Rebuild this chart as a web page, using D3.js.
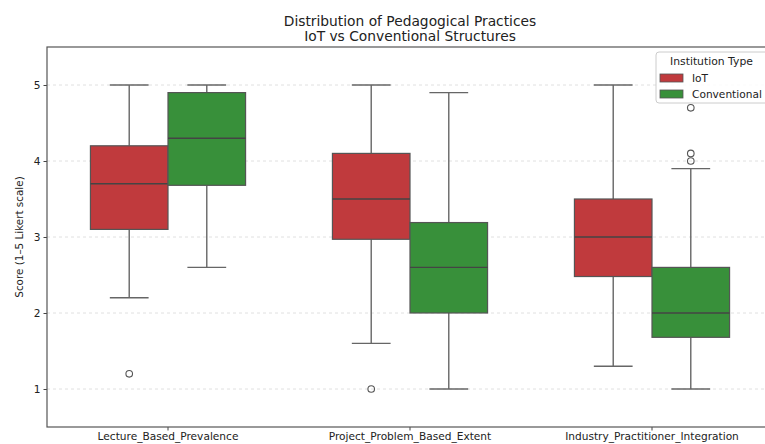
<!DOCTYPE html>
<html>
<head>
<meta charset="utf-8">
<script src="https://cdn.jsdelivr.net/npm/d3@7"></script>
<style>
  body { margin: 0; background: #fff; }
  svg { font-family: "DejaVu Sans", sans-serif; display: block; }
</style>
</head>
<body>
<div id="chart"></div>
<script>
const categories = ["Lecture_Based_Prevalence", "Project_Problem_Based_Extent", "Industry_Practitioner_Integration"];
const groups = ["IoT", "Conventional"];
const yTicks = [1, 2, 3, 4, 5];

// [whiskerLow, q1, median, q3, whiskerHigh] per category
const iotStats = [
    [2.2, 3.1, 3.7, 4.2, 5.0],
    [1.6, 2.97, 3.5, 4.1, 5.0],
    [1.3, 2.48, 3.0, 3.5, 5.0]
];
const convStats = [
    [2.6, 3.68, 4.3, 4.9, 5.0],
    [1.0, 2.0, 2.6, 3.19, 4.9],
    [1.0, 1.68, 2.0, 2.6, 3.9]
];
const iotOutliers = [[1.2], [1.0], []];
const convOutliers = [[], [], [4.0, 4.1, 4.7]];

const width = 765;
const height = 444;
const margin = { top: 47, right: -8, bottom: 17, left: 47 };

const svg = d3.select("#chart")
    .append("svg")
    .attr("width", width)
    .attr("height", height);

const x = d3.scaleBand()
    .domain(categories)
    .range([margin.left, width - margin.right]);

const y = d3.scaleLinear()
    .domain([0.5, 5.5])
    .range([height - margin.bottom, margin.top]);

const sub = d3.scaleBand()
    .domain(groups)
    .range([0, x.bandwidth()])
    .paddingInner(0)
    .paddingOuter(0.56);

const colorScale = d3.scaleOrdinal()
    .domain(groups)
    .range(["#c03a3d", "#38903a"]);

// grid
svg.append("g")
    .selectAll("line")
    .data(yTicks)
    .enter()
    .append("line")
    .attr("x1", margin.left)
    .attr("x2", width)
    .attr("y1", d => y(d))
    .attr("y2", d => y(d))
    .attr("stroke", "#d8d8d8")
    .attr("stroke-width", 0.8)
    .attr("stroke-dasharray", "3,3");

const boxData = [];
categories.forEach((c, i) => {
    boxData.push({ cat: c, group: "IoT", s: iotStats[i], out: iotOutliers[i] });
    boxData.push({ cat: c, group: "Conventional", s: convStats[i], out: convOutliers[i] });
});

const boxes = svg.append("g")
    .selectAll("g")
    .data(boxData)
    .enter()
    .append("g")
    .attr("transform", d => `translate(${x(d.cat) + sub(d.group)},0)`);

const bw = sub.bandwidth();
const capW = bw / 2;

// whiskers
boxes.append("line")
    .attr("x1", bw / 2).attr("x2", bw / 2)
    .attr("y1", d => y(d.s[0])).attr("y2", d => y(d.s[1]))
    .attr("stroke", "#666").attr("stroke-width", 1.4);
boxes.append("line")
    .attr("x1", bw / 2).attr("x2", bw / 2)
    .attr("y1", d => y(d.s[3])).attr("y2", d => y(d.s[4]))
    .attr("stroke", "#666").attr("stroke-width", 1.4);
boxes.append("line")
    .attr("x1", bw / 2 - capW / 2).attr("x2", bw / 2 + capW / 2)
    .attr("y1", d => y(d.s[0])).attr("y2", d => y(d.s[0]))
    .attr("stroke", "#666").attr("stroke-width", 1.4);
boxes.append("line")
    .attr("x1", bw / 2 - capW / 2).attr("x2", bw / 2 + capW / 2)
    .attr("y1", d => y(d.s[4])).attr("y2", d => y(d.s[4]))
    .attr("stroke", "#666").attr("stroke-width", 1.4);

boxes.append("rect")
    .attr("x", 0)
    .attr("width", bw)
    .attr("y", d => y(d.s[3]))
    .attr("height", d => y(d.s[1]) - y(d.s[3]))
    .attr("fill", d => colorScale(d.group))
    .attr("stroke", "#555")
    .attr("stroke-width", 1.2);

boxes.append("line")
    .attr("x1", 0).attr("x2", bw)
    .attr("y1", d => y(d.s[2])).attr("y2", d => y(d.s[2]))
    .attr("stroke", "#444").attr("stroke-width", 1.4);

boxes.selectAll("circle")
    .data(d => d.out)
    .enter()
    .append("circle")
    .attr("cx", bw / 2)
    .attr("cy", d => y(d))
    .attr("r", 3.3)
    .attr("fill", "none")
    .attr("stroke", "#555")
    .attr("stroke-width", 1.1);

// axes
const yAxis = svg.append("g")
    .attr("transform", `translate(${margin.left},0)`)
    .call(d3.axisLeft(y).tickValues(yTicks).tickSize(3.5).tickFormat(d3.format("d")));
yAxis.select(".domain").remove();
yAxis.selectAll("line").attr("stroke", "#444");
yAxis.selectAll("text").attr("font-size", "10.6px").attr("fill", "#222").attr("font-family", "DejaVu Sans");

const xAxis = svg.append("g")
    .attr("transform", `translate(0,${height - margin.bottom})`)
    .call(d3.axisBottom(x).tickSize(3.5).tickPadding(1.5));
xAxis.select(".domain").remove();
xAxis.selectAll("line").attr("stroke", "#444");
xAxis.selectAll("text").attr("font-size", "10.6px").attr("fill", "#222").attr("font-family", "DejaVu Sans");

// frame
svg.append("rect")
    .attr("x", margin.left)
    .attr("y", margin.top)
    .attr("width", width - margin.right - margin.left)
    .attr("height", height - margin.bottom - margin.top)
    .attr("fill", "none")
    .attr("stroke", "#555")
    .attr("stroke-width", 1.2);

// titles
svg.append("text")
    .attr("x", 410).attr("y", 25.5)
    .attr("text-anchor", "middle")
    .attr("font-size", "13.8px")
    .attr("fill", "#222")
    .text("Distribution of Pedagogical Practices");
svg.append("text")
    .attr("x", 410).attr("y", 41)
    .attr("text-anchor", "middle")
    .attr("font-size", "13.8px")
    .attr("fill", "#222")
    .text("IoT vs Conventional Structures");

svg.append("text")
    .attr("transform", `translate(23,${(margin.top + height - margin.bottom) / 2}) rotate(-90)`)
    .attr("text-anchor", "middle")
    .attr("font-size", "10.4px")
    .attr("fill", "#222")
    .text("Score (1–5 Likert scale)");

// legend
const legend = svg.append("g").attr("transform", "translate(656,52)");
legend.append("rect")
    .attr("width", 118).attr("height", 51).attr("rx", 3)
    .attr("fill", "#fff").attr("fill-opacity", 0.85)
    .attr("stroke", "#ccc");
legend.append("text")
    .attr("x", 14).attr("y", 13)
    .attr("font-size", "10.8px").attr("fill", "#222")
    .text("Institution Type");
groups.forEach((g, i) => {
    legend.append("rect")
        .attr("x", 4).attr("y", 22 + i * 16)
        .attr("width", 23).attr("height", 8)
        .attr("fill", colorScale(g))
        .attr("stroke", "#555").attr("stroke-width", 0.8);
    legend.append("text")
        .attr("x", 36).attr("y", 30 + i * 16)
        .attr("font-size", "10.6px").attr("fill", "#222")
        .text(g);
});
</script>
</body>
</html>
